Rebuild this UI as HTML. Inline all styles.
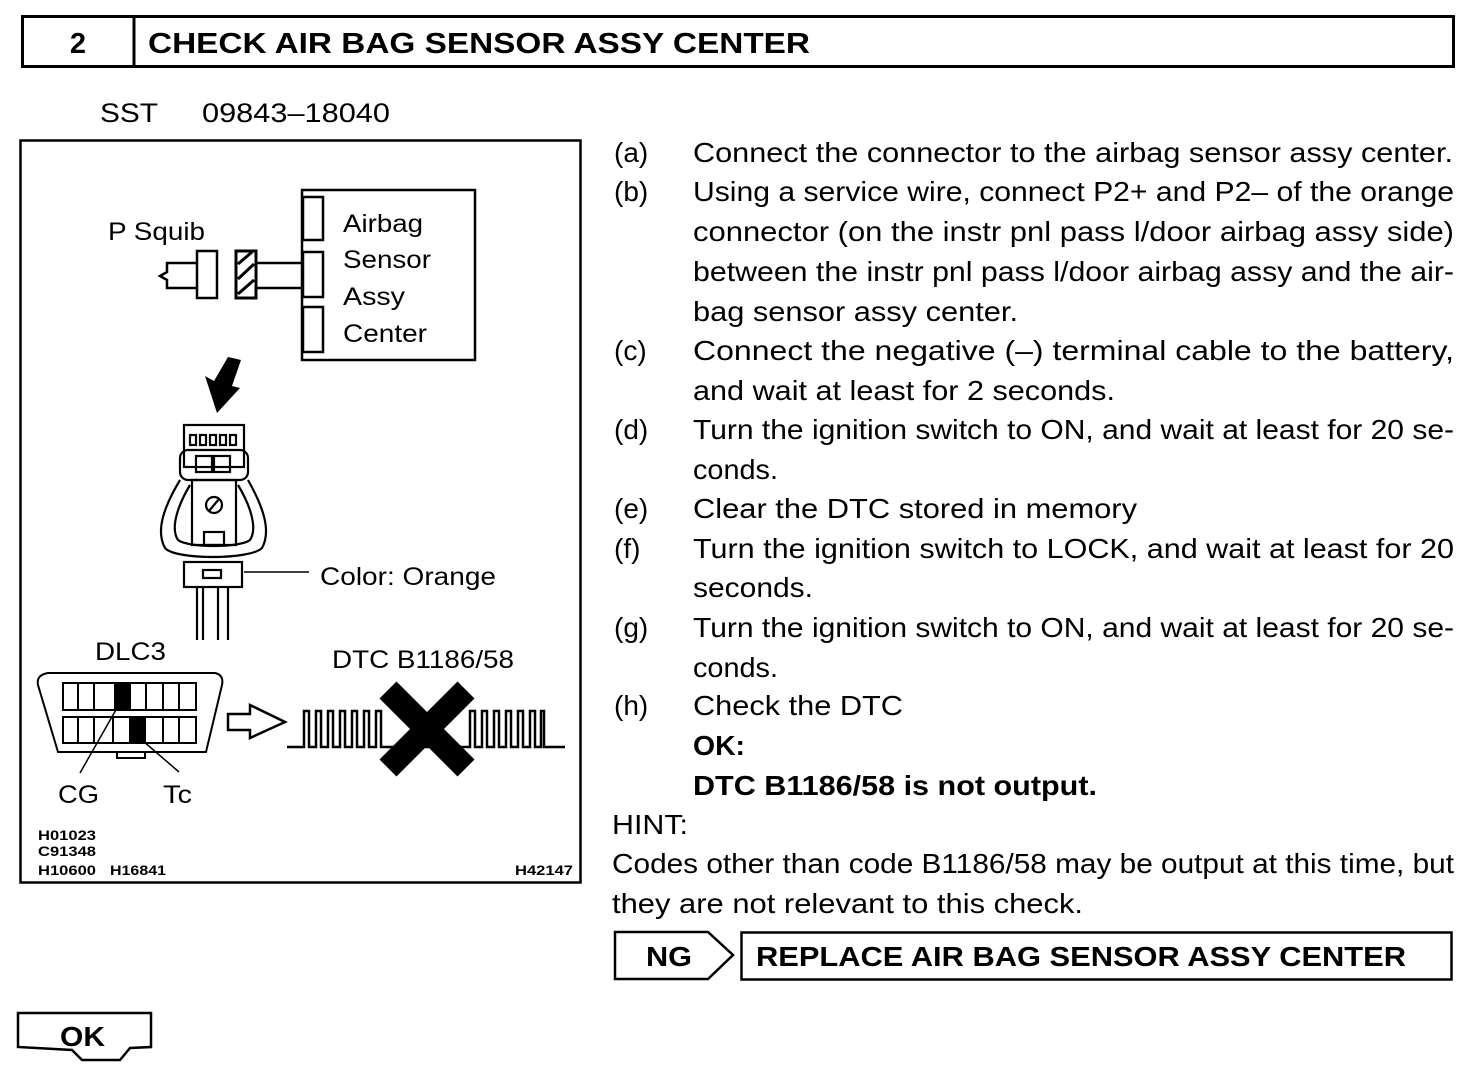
<!DOCTYPE html>
<html><head><meta charset="utf-8"><style>
html,body{margin:0;padding:0;background:#fff;}
svg{display:block;font-family:"Liberation Sans",Arial,sans-serif;}
</style></head><body>
<svg width="1472" height="1076" viewBox="0 0 1472 1076" xmlns="http://www.w3.org/2000/svg">
<rect x="22.5" y="16.5" width="1431" height="50" fill="none" stroke="#000" stroke-width="3"/>
<line x1="134" y1="16" x2="134" y2="66" stroke="#000" stroke-width="3"/>
<text x="78" y="53" font-size="29" font-weight="bold" text-anchor="middle">2</text>
<text x="148" y="53" font-size="29" font-weight="bold" textLength="662" lengthAdjust="spacingAndGlyphs">CHECK AIR BAG SENSOR ASSY CENTER</text>
<text x="100" y="122" font-size="27" textLength="58" lengthAdjust="spacingAndGlyphs">SST</text>
<text x="202" y="122" font-size="27" textLength="188" lengthAdjust="spacingAndGlyphs">09843–18040</text>

<rect x="20.5" y="140.5" width="560" height="742" fill="none" stroke="#000" stroke-width="2.5"/>
<g fill="none" stroke="#000" stroke-width="2.5">
<rect x="302" y="190" width="173" height="170"/>
<rect x="303" y="197" width="20" height="43"/>
<rect x="303" y="252" width="20" height="45"/>
<rect x="303" y="307" width="20" height="45"/>
<rect x="197" y="251" width="20" height="47"/>
<path d="M197 263 H167 V272 L160 276 L167 280 V288 H197"/>
<line x1="256" y1="263" x2="303" y2="263"/>
<line x1="256" y1="288" x2="303" y2="288"/>
</g>
<rect x="236" y="251" width="20" height="47" fill="#fff" stroke="#000" stroke-width="3"/>
<g stroke="#000" stroke-width="3"><line x1="238" y1="264" x2="252" y2="252"/><line x1="238" y1="279" x2="254" y2="264"/><line x1="238" y1="294" x2="254" y2="280"/></g>
<g font-size="25" lengthAdjust="spacingAndGlyphs">
<text x="108" y="240" textLength="97" lengthAdjust="spacingAndGlyphs">P Squib</text>
<text x="343" y="232" textLength="80" lengthAdjust="spacingAndGlyphs">Airbag</text>
<text x="343" y="268" textLength="88" lengthAdjust="spacingAndGlyphs">Sensor</text>
<text x="343" y="305" textLength="62" lengthAdjust="spacingAndGlyphs">Assy</text>
<text x="343" y="342" textLength="84" lengthAdjust="spacingAndGlyphs">Center</text>
</g>
<polygon points="228,357 241,360 232,386 240,388 217,413 205,376 214,381" fill="#000"/>
<g fill="none" stroke="#000" stroke-width="2.2">
<rect x="184" y="425" width="60" height="42"/>
<rect x="190" y="435" width="6" height="10"/><rect x="200" y="435" width="6" height="10"/><rect x="210" y="435" width="6" height="10"/><rect x="220" y="435" width="6" height="10"/><rect x="230" y="435" width="6" height="10"/>
<rect x="180" y="450" width="68" height="30" rx="8"/>
<rect x="196" y="456" width="16" height="16"/><rect x="214" y="456" width="16" height="16"/>
<path d="M180 480 C165 505 155 530 165 548 C175 560 250 560 262 548 C272 530 262 505 248 480"/>
<path d="M190 485 C178 505 170 528 178 540 C188 548 240 548 250 540 C258 528 250 505 238 485"/>
<path d="M192 480 H236 V545 H192 Z"/>
<circle cx="214" cy="505" r="8"/>
<line x1="209" y1="511" x2="219" y2="499"/>
<rect x="204" y="532" width="20" height="13"/>
<rect x="184" y="562" width="58" height="25"/>
<rect x="203" y="570" width="18" height="8"/>
<line x1="197" y1="587" x2="197" y2="640"/><line x1="203" y1="587" x2="203" y2="640"/>
<line x1="218" y1="587" x2="218" y2="640"/><line x1="228" y1="587" x2="228" y2="640"/>
<line x1="244" y1="572" x2="309" y2="572" stroke-width="1.5"/>
</g>
<text x="320" y="585" font-size="25" textLength="176" lengthAdjust="spacingAndGlyphs">Color: Orange</text>

<text x="95" y="660" font-size="25" textLength="71" lengthAdjust="spacingAndGlyphs">DLC3</text>
<text x="332" y="668" font-size="25" textLength="182" lengthAdjust="spacingAndGlyphs">DTC B1186/58</text>
<g fill="none" stroke="#000" stroke-width="2">
<path d="M48 673 H215 Q224 675 222 685 L206 752 H58 L38 685 Q36 675 48 673 Z"/>
<rect x="63" y="683" width="133" height="27"/>
<rect x="63" y="717" width="133" height="26"/>
<path d="M78 683V710M94 683V710M115 683V710M146 683V710M163 683V710M179 683V710"/>
<path d="M78 717V743M94 717V743M113 717V743M130 717V743M163 717V743M179 717V743"/>
<rect x="117" y="752" width="28" height="6"/>
<line x1="117" y1="708" x2="80" y2="773" stroke-width="1.5"/>
<line x1="143" y1="741" x2="179" y2="772" stroke-width="1.5"/>
</g>
<rect x="115" y="683" width="16" height="27" fill="#000"/>
<rect x="130" y="717" width="16" height="26" fill="#000"/>
<text x="58" y="803" font-size="25" textLength="41" lengthAdjust="spacingAndGlyphs">CG</text>
<text x="163" y="803" font-size="25" textLength="29" lengthAdjust="spacingAndGlyphs">Tc</text>
<path d="M228 714 H250 V705 L285 722 L250 738 V730 H228 Z" fill="none" stroke="#000" stroke-width="2.5"/>
<path d="M287 747 H304 V711 H309 V747 H316 V711 H321 V747 H328 V711 H333 V747 H340 V711 H345 V747 H352 V711 H357 V747 H364 V711 H369 V747 H376 V711 H381 V747 H470 V711 H475 V747 H482 V711 H487 V747 H494 V711 H499 V747 H506 V711 H511 V747 H518 V711 H523 V747 H530 V711 H535 V747 H541 V711 H544 V747 H565" fill="none" stroke="#000" stroke-width="2.5"/>
<g stroke="#000" stroke-width="24"><line x1="388" y1="690" x2="466" y2="768"/><line x1="466" y1="690" x2="388" y2="768"/></g>
<g font-size="14" font-weight="bold">
<text x="38" y="840" textLength="58" lengthAdjust="spacingAndGlyphs">H01023</text>
<text x="38" y="856" textLength="58" lengthAdjust="spacingAndGlyphs">C91348</text>
<text x="38" y="875" textLength="58" lengthAdjust="spacingAndGlyphs">H10600</text>
<text x="110" y="875" textLength="56" lengthAdjust="spacingAndGlyphs">H16841</text>
<text x="515" y="875" textLength="58" lengthAdjust="spacingAndGlyphs">H42147</text>
</g>

<g font-size="28">
<text x="614" y="162">(a)</text><text x="693" y="162" textLength="760" lengthAdjust="spacingAndGlyphs">Connect the connector to the airbag sensor assy center.</text>
<text x="614" y="201">(b)</text><text x="693" y="201" textLength="761" lengthAdjust="spacingAndGlyphs">Using a service wire, connect P2+ and P2– of the orange</text>
<text x="693" y="241" textLength="761" lengthAdjust="spacingAndGlyphs">connector (on the instr pnl pass l/door airbag assy side)</text>
<text x="693" y="281" textLength="761" lengthAdjust="spacingAndGlyphs">between the instr pnl pass l/door airbag assy and the air-</text>
<text x="693" y="321" textLength="325" lengthAdjust="spacingAndGlyphs">bag sensor assy center.</text>
<text x="614" y="360">(c)</text><text x="693" y="360" textLength="761" lengthAdjust="spacingAndGlyphs">Connect the negative (–) terminal cable to the battery,</text>
<text x="693" y="400" textLength="422" lengthAdjust="spacingAndGlyphs">and wait at least for 2 seconds.</text>
<text x="614" y="439">(d)</text><text x="693" y="439" textLength="761" lengthAdjust="spacingAndGlyphs">Turn the ignition switch to ON, and wait at least for 20 se-</text>
<text x="693" y="479" textLength="85" lengthAdjust="spacingAndGlyphs">conds.</text>
<text x="614" y="518">(e)</text><text x="693" y="518" textLength="444" lengthAdjust="spacingAndGlyphs">Clear the DTC stored in memory</text>
<text x="614" y="558">(f)</text><text x="693" y="558" textLength="761" lengthAdjust="spacingAndGlyphs">Turn the ignition switch to LOCK, and wait at least for 20</text>
<text x="693" y="597" textLength="120" lengthAdjust="spacingAndGlyphs">seconds.</text>
<text x="614" y="637">(g)</text><text x="693" y="637" textLength="761" lengthAdjust="spacingAndGlyphs">Turn the ignition switch to ON, and wait at least for 20 se-</text>
<text x="693" y="677" textLength="85" lengthAdjust="spacingAndGlyphs">conds.</text>
<text x="614" y="715">(h)</text><text x="693" y="715" textLength="210" lengthAdjust="spacingAndGlyphs">Check the DTC</text>
<text x="693" y="755" font-weight="bold" textLength="52" lengthAdjust="spacingAndGlyphs">OK:</text>
<text x="693" y="795" font-weight="bold" textLength="404" lengthAdjust="spacingAndGlyphs">DTC B1186/58 is not output.</text>
<text x="612" y="834" textLength="76" lengthAdjust="spacingAndGlyphs">HINT:</text>
<text x="612" y="873" textLength="842" lengthAdjust="spacingAndGlyphs">Codes other than code B1186/58 may be output at this time, but</text>
<text x="612" y="913" textLength="471" lengthAdjust="spacingAndGlyphs">they are not relevant to this check.</text>
</g>
<path d="M615 932 H708 L733 955 L708 979 H615 Z" fill="none" stroke="#000" stroke-width="2.5"/>
<text x="646" y="966" font-size="28" font-weight="bold" textLength="46" lengthAdjust="spacingAndGlyphs">NG</text>
<rect x="741.5" y="932.5" width="710" height="47" fill="none" stroke="#000" stroke-width="2.5"/>
<text x="756" y="966" font-size="28" font-weight="bold" textLength="650" lengthAdjust="spacingAndGlyphs">REPLACE AIR BAG SENSOR ASSY CENTER</text>
<path d="M18 1013 H151 V1047 L130 1048 L120 1060 H82 L72 1050 L18 1047 Z" fill="none" stroke="#000" stroke-width="2.5"/>
<text x="60" y="1046" font-size="28" font-weight="bold" textLength="45" lengthAdjust="spacingAndGlyphs">OK</text>
</svg>
</body></html>
